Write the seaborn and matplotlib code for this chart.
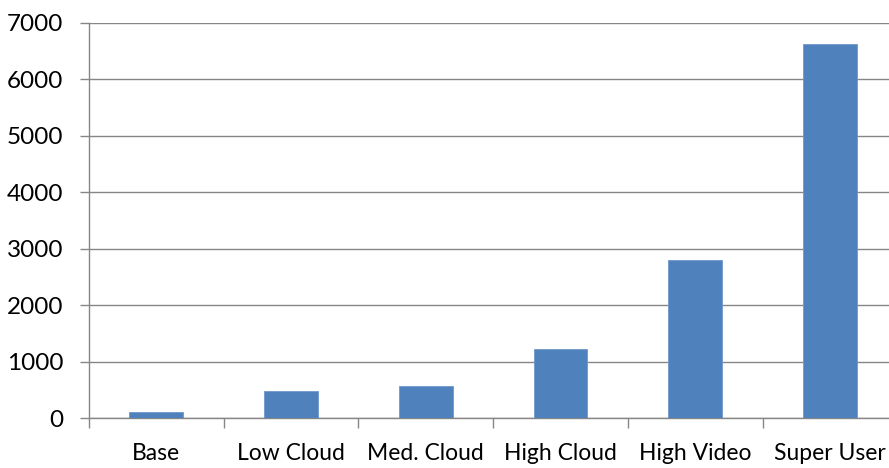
import matplotlib
matplotlib.use("Agg")
import matplotlib.pyplot as plt
import seaborn as sns
import pandas as pd
from matplotlib.ticker import FixedLocator

categories = ["Base", "Low Cloud", "Med. Cloud", "High Cloud", "High Video", "Super User"]
values = [110, 490, 580, 1230, 2800, 6630]
y_ticks = [0, 1000, 2000, 3000, 4000, 5000, 6000, 7000]

df = pd.DataFrame({"category": categories, "value": values})

sns.set_style("white")
plt.rcParams["font.family"] = ["Lato", "DejaVu Sans"]

grid_color = "#868686"

fig = plt.figure(figsize=(8.89, 4.68), dpi=100)
# axes run slightly past the right edge of the figure
ax = fig.add_axes([0.0998, 0.1062, 0.9098, 0.8453])

sns.barplot(data=df, x="category", y="value", ax=ax, color="#4F81BD",
            saturation=1, width=0.4, edgecolor="#6E98CC", linewidth=0.6,
            zorder=3)

ax.set_xlim(-0.5, len(categories) - 0.5)
ax.set_ylim(0, 7000)
ax.yaxis.set_major_locator(FixedLocator(y_ticks))
ax.set_yticklabels([str(t) for t in y_ticks])

ax.grid(axis="y", color=grid_color, linewidth=1.0, zorder=0)
ax.set_axisbelow(True)

for side in ("top", "right"):
    ax.spines[side].set_visible(False)
for side in ("left", "bottom"):
    ax.spines[side].set_color(grid_color)
    ax.spines[side].set_linewidth(1.0)

# category boundary ticks below the axis
ax.xaxis.set_minor_locator(FixedLocator([i - 0.5 for i in range(len(categories) + 1)]))
ax.tick_params(axis="x", which="minor", length=7.5, width=1.0, color=grid_color,
               direction="out", bottom=True)
ax.tick_params(axis="x", which="major", length=0, pad=18, labelsize=16.5, labelcolor="#000000")
ax.tick_params(axis="y", which="major", length=6.3, width=1.0, color=grid_color,
               direction="out", pad=12, labelsize=17.5, labelcolor="#000000", left=True)

ax.set_xlabel("")
ax.set_ylabel("")

fig.savefig("out.png", dpi=100)
